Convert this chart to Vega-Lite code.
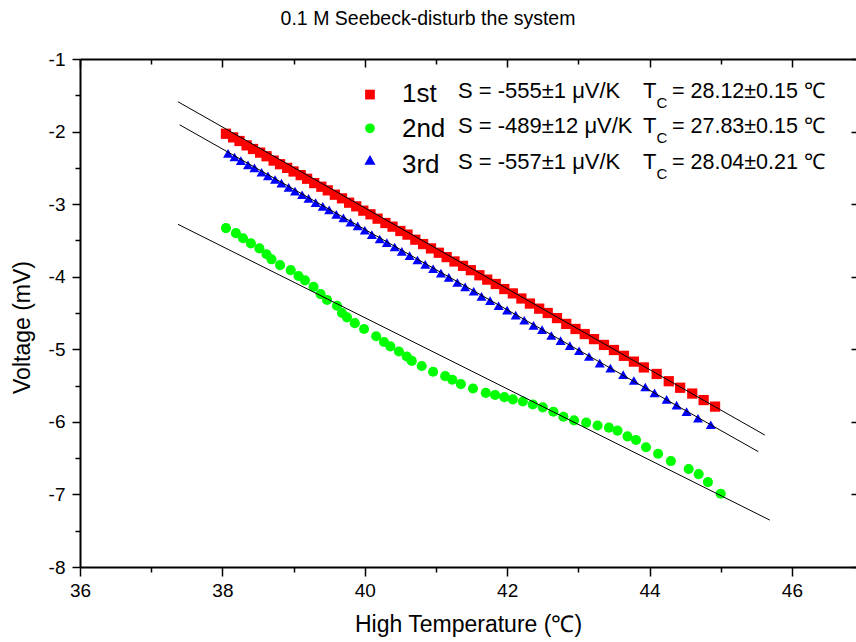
{
  "$schema": "https://vega.github.io/schema/vega-lite/v6.json",
  "width": 776,
  "height": 508,
  "autosize": {"type": "none"},
  "padding": {"left": 80, "top": 59, "right": 0, "bottom": 75},
  "background": "white",
  "config": {
    "view": {"stroke": null},
    "font": "Liberation Sans, Arial, sans-serif",
    "axis": {"labelFont": "Liberation Sans, Arial, sans-serif", "titleFont": "Liberation Sans, Arial, sans-serif", "labelColor": "black", "titleColor": "black", "domainColor": "black", "tickColor": "black", "titleFontWeight": "normal", "grid": false}
  },
  "title": {"text": "0.1 M Seebeck-disturb the system", "fontSize": 19.5, "fontWeight": "normal", "font": "Liberation Sans, Arial, sans-serif", "anchor": "middle", "dx": -40, "offset": 6, "baseline": "alphabetic", "color": "black"},
  "datasets": {
    "points": [
      {"series": "1st", "T": 38.05, "V": -2.03}, {"series": "1st", "T": 38.15, "V": -2.08}, {"series": "1st", "T": 38.24, "V": -2.13}, {"series": "1st", "T": 38.34, "V": -2.19},
      {"series": "1st", "T": 38.43, "V": -2.24}, {"series": "1st", "T": 38.53, "V": -2.29}, {"series": "1st", "T": 38.62, "V": -2.34}, {"series": "1st", "T": 38.72, "V": -2.40},
      {"series": "1st", "T": 38.81, "V": -2.45}, {"series": "1st", "T": 38.91, "V": -2.50}, {"series": "1st", "T": 39.00, "V": -2.55}, {"series": "1st", "T": 39.10, "V": -2.60},
      {"series": "1st", "T": 39.19, "V": -2.65}, {"series": "1st", "T": 39.29, "V": -2.71}, {"series": "1st", "T": 39.39, "V": -2.76}, {"series": "1st", "T": 39.48, "V": -2.81},
      {"series": "1st", "T": 39.58, "V": -2.87}, {"series": "1st", "T": 39.68, "V": -2.92}, {"series": "1st", "T": 39.78, "V": -2.98}, {"series": "1st", "T": 39.88, "V": -3.03},
      {"series": "1st", "T": 39.98, "V": -3.09}, {"series": "1st", "T": 40.08, "V": -3.14}, {"series": "1st", "T": 40.18, "V": -3.20}, {"series": "1st", "T": 40.29, "V": -3.26},
      {"series": "1st", "T": 40.39, "V": -3.31}, {"series": "1st", "T": 40.50, "V": -3.37}, {"series": "1st", "T": 40.60, "V": -3.42}, {"series": "1st", "T": 40.71, "V": -3.49},
      {"series": "1st", "T": 40.82, "V": -3.55}, {"series": "1st", "T": 40.93, "V": -3.61}, {"series": "1st", "T": 41.04, "V": -3.67}, {"series": "1st", "T": 41.15, "V": -3.73},
      {"series": "1st", "T": 41.26, "V": -3.79}, {"series": "1st", "T": 41.38, "V": -3.85}, {"series": "1st", "T": 41.49, "V": -3.91}, {"series": "1st", "T": 41.61, "V": -3.98},
      {"series": "1st", "T": 41.72, "V": -4.04}, {"series": "1st", "T": 41.84, "V": -4.10}, {"series": "1st", "T": 41.96, "V": -4.17}, {"series": "1st", "T": 42.08, "V": -4.23},
      {"series": "1st", "T": 42.20, "V": -4.30}, {"series": "1st", "T": 42.32, "V": -4.37}, {"series": "1st", "T": 42.45, "V": -4.44}, {"series": "1st", "T": 42.57, "V": -4.50},
      {"series": "1st", "T": 42.70, "V": -4.57}, {"series": "1st", "T": 42.83, "V": -4.65}, {"series": "1st", "T": 42.96, "V": -4.72}, {"series": "1st", "T": 43.09, "V": -4.79},
      {"series": "1st", "T": 43.22, "V": -4.86}, {"series": "1st", "T": 43.36, "V": -4.94}, {"series": "1st", "T": 43.50, "V": -5.01}, {"series": "1st", "T": 43.64, "V": -5.09},
      {"series": "1st", "T": 43.78, "V": -5.17}, {"series": "1st", "T": 43.92, "V": -5.25}, {"series": "1st", "T": 44.10, "V": -5.34}, {"series": "1st", "T": 44.27, "V": -5.44},
      {"series": "1st", "T": 44.43, "V": -5.53}, {"series": "1st", "T": 44.60, "V": -5.61}, {"series": "1st", "T": 44.76, "V": -5.70}, {"series": "1st", "T": 44.92, "V": -5.79},
      {"series": "2nd", "T": 38.05, "V": -3.33}, {"series": "2nd", "T": 38.19, "V": -3.40}, {"series": "2nd", "T": 38.29, "V": -3.47}, {"series": "2nd", "T": 38.40, "V": -3.54},
      {"series": "2nd", "T": 38.52, "V": -3.61}, {"series": "2nd", "T": 38.62, "V": -3.69}, {"series": "2nd", "T": 38.69, "V": -3.76}, {"series": "2nd", "T": 38.81, "V": -3.84},
      {"series": "2nd", "T": 38.96, "V": -3.91}, {"series": "2nd", "T": 39.07, "V": -3.99}, {"series": "2nd", "T": 39.16, "V": -4.05}, {"series": "2nd", "T": 39.28, "V": -4.14},
      {"series": "2nd", "T": 39.38, "V": -4.24}, {"series": "2nd", "T": 39.47, "V": -4.32}, {"series": "2nd", "T": 39.61, "V": -4.40}, {"series": "2nd", "T": 39.68, "V": -4.50},
      {"series": "2nd", "T": 39.75, "V": -4.56}, {"series": "2nd", "T": 39.86, "V": -4.64}, {"series": "2nd", "T": 39.99, "V": -4.72}, {"series": "2nd", "T": 40.16, "V": -4.82},
      {"series": "2nd", "T": 40.27, "V": -4.90}, {"series": "2nd", "T": 40.36, "V": -4.96}, {"series": "2nd", "T": 40.48, "V": -5.03}, {"series": "2nd", "T": 40.59, "V": -5.10},
      {"series": "2nd", "T": 40.66, "V": -5.16}, {"series": "2nd", "T": 40.80, "V": -5.23}, {"series": "2nd", "T": 40.96, "V": -5.31}, {"series": "2nd", "T": 41.13, "V": -5.37},
      {"series": "2nd", "T": 41.23, "V": -5.42}, {"series": "2nd", "T": 41.35, "V": -5.48}, {"series": "2nd", "T": 41.52, "V": -5.54}, {"series": "2nd", "T": 41.70, "V": -5.60},
      {"series": "2nd", "T": 41.83, "V": -5.63}, {"series": "2nd", "T": 41.96, "V": -5.66}, {"series": "2nd", "T": 42.08, "V": -5.69}, {"series": "2nd", "T": 42.22, "V": -5.72},
      {"series": "2nd", "T": 42.36, "V": -5.76}, {"series": "2nd", "T": 42.50, "V": -5.80}, {"series": "2nd", "T": 42.65, "V": -5.86}, {"series": "2nd", "T": 42.79, "V": -5.93},
      {"series": "2nd", "T": 42.94, "V": -5.98}, {"series": "2nd", "T": 43.11, "V": -6.01}, {"series": "2nd", "T": 43.27, "V": -6.05}, {"series": "2nd", "T": 43.43, "V": -6.08},
      {"series": "2nd", "T": 43.55, "V": -6.12}, {"series": "2nd", "T": 43.69, "V": -6.20}, {"series": "2nd", "T": 43.81, "V": -6.25}, {"series": "2nd", "T": 43.95, "V": -6.35},
      {"series": "2nd", "T": 44.12, "V": -6.44}, {"series": "2nd", "T": 44.30, "V": -6.54}, {"series": "2nd", "T": 44.55, "V": -6.65}, {"series": "2nd", "T": 44.69, "V": -6.72},
      {"series": "2nd", "T": 44.82, "V": -6.83}, {"series": "2nd", "T": 45.00, "V": -6.99},
      {"series": "3rd", "T": 38.08, "V": -2.30}, {"series": "3rd", "T": 38.17, "V": -2.35}, {"series": "3rd", "T": 38.26, "V": -2.40}, {"series": "3rd", "T": 38.36, "V": -2.46},
      {"series": "3rd", "T": 38.45, "V": -2.50}, {"series": "3rd", "T": 38.55, "V": -2.56}, {"series": "3rd", "T": 38.64, "V": -2.61}, {"series": "3rd", "T": 38.74, "V": -2.66},
      {"series": "3rd", "T": 38.83, "V": -2.71}, {"series": "3rd", "T": 38.93, "V": -2.77}, {"series": "3rd", "T": 39.02, "V": -2.82}, {"series": "3rd", "T": 39.12, "V": -2.87},
      {"series": "3rd", "T": 39.21, "V": -2.92}, {"series": "3rd", "T": 39.31, "V": -2.98}, {"series": "3rd", "T": 39.41, "V": -3.03}, {"series": "3rd", "T": 39.50, "V": -3.08},
      {"series": "3rd", "T": 39.60, "V": -3.14}, {"series": "3rd", "T": 39.70, "V": -3.19}, {"series": "3rd", "T": 39.80, "V": -3.25}, {"series": "3rd", "T": 39.90, "V": -3.30},
      {"series": "3rd", "T": 40.00, "V": -3.36}, {"series": "3rd", "T": 40.10, "V": -3.42}, {"series": "3rd", "T": 40.21, "V": -3.48}, {"series": "3rd", "T": 40.31, "V": -3.53},
      {"series": "3rd", "T": 40.42, "V": -3.59}, {"series": "3rd", "T": 40.52, "V": -3.65}, {"series": "3rd", "T": 40.63, "V": -3.71}, {"series": "3rd", "T": 40.74, "V": -3.77},
      {"series": "3rd", "T": 40.85, "V": -3.83}, {"series": "3rd", "T": 40.96, "V": -3.89}, {"series": "3rd", "T": 41.07, "V": -3.95}, {"series": "3rd", "T": 41.18, "V": -4.01},
      {"series": "3rd", "T": 41.30, "V": -4.08}, {"series": "3rd", "T": 41.41, "V": -4.14}, {"series": "3rd", "T": 41.53, "V": -4.20}, {"series": "3rd", "T": 41.64, "V": -4.27},
      {"series": "3rd", "T": 41.76, "V": -4.33}, {"series": "3rd", "T": 41.88, "V": -4.40}, {"series": "3rd", "T": 42.00, "V": -4.46}, {"series": "3rd", "T": 42.12, "V": -4.53},
      {"series": "3rd", "T": 42.24, "V": -4.60}, {"series": "3rd", "T": 42.37, "V": -4.67}, {"series": "3rd", "T": 42.49, "V": -4.73}, {"series": "3rd", "T": 42.62, "V": -4.81},
      {"series": "3rd", "T": 42.75, "V": -4.88}, {"series": "3rd", "T": 42.88, "V": -4.95}, {"series": "3rd", "T": 43.01, "V": -5.02}, {"series": "3rd", "T": 43.15, "V": -5.10},
      {"series": "3rd", "T": 43.30, "V": -5.19}, {"series": "3rd", "T": 43.45, "V": -5.26}, {"series": "3rd", "T": 43.63, "V": -5.35}, {"series": "3rd", "T": 43.78, "V": -5.43},
      {"series": "3rd", "T": 43.94, "V": -5.52}, {"series": "3rd", "T": 44.07, "V": -5.60}, {"series": "3rd", "T": 44.24, "V": -5.69}, {"series": "3rd", "T": 44.38, "V": -5.77},
      {"series": "3rd", "T": 44.52, "V": -5.86}, {"series": "3rd", "T": 44.68, "V": -5.95}, {"series": "3rd", "T": 44.86, "V": -6.04}
    ],
    "fits": [
      {"fit": "1st", "T": 37.376, "V": -1.589}, {"fit": "1st", "T": 45.62, "V": -6.182},
      {"fit": "2nd", "T": 37.376, "V": -3.278}, {"fit": "2nd", "T": 45.69, "V": -7.354},
      {"fit": "3rd", "T": 37.40, "V": -1.907}, {"fit": "3rd", "T": 45.527, "V": -6.41}
    ]
  },
  "resolve": {"axis": {"x": "independent", "y": "independent"}},
  "layer": [
    {
      "data": {"name": "points"},
      "mark": {"type": "point", "filled": true, "opacity": 1, "strokeWidth": 0},
      "encoding": {
        "x": {"field": "T", "type": "quantitative", "scale": {"domain": [36, 46.9], "nice": false, "zero": false},
          "axis": {"orient": "bottom", "values": [36, 37, 38, 39, 40, 41, 42, 43, 44, 45, 46], "labelExpr": "datum.value % 2 === 0 ? '' + datum.value : ''",
            "tickSize": {"condition": {"test": "datum.value % 2 === 0", "value": 9}, "value": 5}, "tickWidth": 1.5, "domainWidth": 2,
            "labelFontSize": 19, "labelPadding": 5, "labelOverlap": false, "labelFlush": false, "title": "High Temperature (℃)", "titleFontSize": 23, "titlePadding": 13}},
        "y": {"field": "V", "type": "quantitative", "scale": {"domain": [-8, -1], "nice": false, "zero": false},
          "axis": {"orient": "left", "values": [-8, -7.5, -7, -6.5, -6, -5.5, -5, -4.5, -4, -3.5, -3, -2.5, -2, -1.5, -1], "labelExpr": "datum.value % 1 === 0 ? '' + datum.value : ''",
            "tickSize": {"condition": {"test": "datum.value % 1 === 0", "value": 8}, "value": 5}, "tickWidth": 1.5, "domainWidth": 2,
            "labelFontSize": 19, "labelPadding": 7, "labelOverlap": false, "title": "Voltage (mV)", "titleFontSize": 23, "titlePadding": 14, "titleY": 268}},
        "shape": {"field": "series", "type": "nominal", "scale": {"domain": ["1st", "2nd", "3rd"], "range": ["square", "circle", "triangle-up"]}, "legend": null},
        "color": {"field": "series", "type": "nominal", "scale": {"domain": ["1st", "2nd", "3rd"], "range": ["#ff0000", "#00ff00", "#0000ff"]}, "legend": null},
        "size": {"field": "series", "type": "nominal", "scale": {"domain": ["1st", "2nd", "3rd"], "range": [105, 100, 125]}, "legend": null}
      }
    },
    {
      "data": {"name": "fits"},
      "mark": {"type": "line", "color": "black", "strokeWidth": 1},
      "encoding": {
        "x": {"field": "T", "type": "quantitative", "scale": {"domain": [36, 46.9], "nice": false, "zero": false},
          "axis": {"orient": "top", "values": [36, 37, 38, 39, 40, 41, 42, 43, 44, 45, 46], "labels": false, "title": null,
            "tickSize": {"condition": {"test": "datum.value % 2 === 0", "value": -8}, "value": -5}, "tickWidth": 1.5, "domainWidth": 2}},
        "y": {"field": "V", "type": "quantitative", "scale": {"domain": [-8, -1], "nice": false, "zero": false},
          "axis": {"orient": "right", "values": [-8, -7, -6, -5, -4, -3, -2, -1], "labels": false, "title": null, "domain": false, "tickSize": -5, "tickWidth": 1.5}},
        "detail": {"field": "fit", "type": "nominal"}
      }
    },
    {
      "data": {"values": [{"label": "1st", "s": "S = -555±1 μV/K", "t": "T", "c": "C", "tc": "= 28.12±0.15 ℃"}]},
      "layer": [
        {"mark": {"type": "point", "shape": "square", "filled": true, "color": "#ff0000", "size": 95, "opacity": 1, "strokeWidth": 0},
          "encoding": {"x": {"datum": 40.073, "type": "quantitative", "scale": {"domain": [36, 46.9], "nice": false, "zero": false}, "axis": null}, "y": {"datum": -1.49, "type": "quantitative", "scale": {"domain": [-8, -1], "nice": false, "zero": false}, "axis": null}}},
        {"mark": {"type": "text", "fontSize": 26, "align": "left", "baseline": "alphabetic", "color": "black"},
          "encoding": {"text": {"field": "label"}, "x": {"datum": 40.522, "type": "quantitative", "scale": {"domain": [36, 46.9], "nice": false, "zero": false}, "axis": null}, "y": {"datum": -1.59, "type": "quantitative", "scale": {"domain": [-8, -1], "nice": false, "zero": false}, "axis": null}}},
        {"mark": {"type": "text", "fontSize": 22, "align": "left", "baseline": "alphabetic", "color": "black"},
          "encoding": {"text": {"field": "s"}, "x": {"datum": 41.309, "type": "quantitative", "scale": {"domain": [36, 46.9], "nice": false, "zero": false}, "axis": null}, "y": {"datum": -1.534, "type": "quantitative", "scale": {"domain": [-8, -1], "nice": false, "zero": false}, "axis": null}}},
        {"mark": {"type": "text", "fontSize": 22, "align": "left", "baseline": "alphabetic", "color": "black"},
          "encoding": {"text": {"field": "t"}, "x": {"datum": 43.907, "type": "quantitative", "scale": {"domain": [36, 46.9], "nice": false, "zero": false}, "axis": null}, "y": {"datum": -1.534, "type": "quantitative", "scale": {"domain": [-8, -1], "nice": false, "zero": false}, "axis": null}}},
        {"mark": {"type": "text", "fontSize": 15, "align": "left", "baseline": "alphabetic", "color": "black"},
          "encoding": {"text": {"field": "c"}, "x": {"datum": 44.097, "type": "quantitative", "scale": {"domain": [36, 46.9], "nice": false, "zero": false}, "axis": null}, "y": {"datum": -1.672, "type": "quantitative", "scale": {"domain": [-8, -1], "nice": false, "zero": false}, "axis": null}}},
        {"mark": {"type": "text", "fontSize": 21.5, "align": "left", "baseline": "alphabetic", "color": "black"},
          "encoding": {"text": {"field": "tc"}, "x": {"datum": 44.315, "type": "quantitative", "scale": {"domain": [36, 46.9], "nice": false, "zero": false}, "axis": null}, "y": {"datum": -1.534, "type": "quantitative", "scale": {"domain": [-8, -1], "nice": false, "zero": false}, "axis": null}}}
      ]
    },
    {
      "data": {"values": [{"label": "2nd", "s": "S = -489±12 μV/K", "t": "T", "c": "C", "tc": "= 27.83±0.15 ℃"}]},
      "layer": [
        {"mark": {"type": "point", "shape": "circle", "filled": true, "color": "#00ff00", "size": 95, "opacity": 1, "strokeWidth": 0},
          "encoding": {"x": {"datum": 40.073, "type": "quantitative", "scale": {"domain": [36, 46.9], "nice": false, "zero": false}, "axis": null}, "y": {"datum": -1.955, "type": "quantitative", "scale": {"domain": [-8, -1], "nice": false, "zero": false}, "axis": null}}},
        {"mark": {"type": "text", "fontSize": 26, "align": "left", "baseline": "alphabetic", "color": "black"},
          "encoding": {"text": {"field": "label"}, "x": {"datum": 40.522, "type": "quantitative", "scale": {"domain": [36, 46.9], "nice": false, "zero": false}, "axis": null}, "y": {"datum": -2.079, "type": "quantitative", "scale": {"domain": [-8, -1], "nice": false, "zero": false}, "axis": null}}},
        {"mark": {"type": "text", "fontSize": 22, "align": "left", "baseline": "alphabetic", "color": "black"},
          "encoding": {"text": {"field": "s"}, "x": {"datum": 41.309, "type": "quantitative", "scale": {"domain": [36, 46.9], "nice": false, "zero": false}, "axis": null}, "y": {"datum": -2.023, "type": "quantitative", "scale": {"domain": [-8, -1], "nice": false, "zero": false}, "axis": null}}},
        {"mark": {"type": "text", "fontSize": 22, "align": "left", "baseline": "alphabetic", "color": "black"},
          "encoding": {"text": {"field": "t"}, "x": {"datum": 43.907, "type": "quantitative", "scale": {"domain": [36, 46.9], "nice": false, "zero": false}, "axis": null}, "y": {"datum": -2.023, "type": "quantitative", "scale": {"domain": [-8, -1], "nice": false, "zero": false}, "axis": null}}},
        {"mark": {"type": "text", "fontSize": 15, "align": "left", "baseline": "alphabetic", "color": "black"},
          "encoding": {"text": {"field": "c"}, "x": {"datum": 44.097, "type": "quantitative", "scale": {"domain": [36, 46.9], "nice": false, "zero": false}, "axis": null}, "y": {"datum": -2.162, "type": "quantitative", "scale": {"domain": [-8, -1], "nice": false, "zero": false}, "axis": null}}},
        {"mark": {"type": "text", "fontSize": 21.5, "align": "left", "baseline": "alphabetic", "color": "black"},
          "encoding": {"text": {"field": "tc"}, "x": {"datum": 44.315, "type": "quantitative", "scale": {"domain": [36, 46.9], "nice": false, "zero": false}, "axis": null}, "y": {"datum": -2.023, "type": "quantitative", "scale": {"domain": [-8, -1], "nice": false, "zero": false}, "axis": null}}}
      ]
    },
    {
      "data": {"values": [{"label": "3rd", "s": "S = -557±1 μV/K", "t": "T", "c": "C", "tc": "= 28.04±0.21 ℃"}]},
      "layer": [
        {"mark": {"type": "point", "shape": "triangle-up", "filled": true, "color": "#0000ff", "size": 125, "opacity": 1, "strokeWidth": 0},
          "encoding": {"x": {"datum": 40.073, "type": "quantitative", "scale": {"domain": [36, 46.9], "nice": false, "zero": false}, "axis": null}, "y": {"datum": -2.389, "type": "quantitative", "scale": {"domain": [-8, -1], "nice": false, "zero": false}, "axis": null}}},
        {"mark": {"type": "text", "fontSize": 26, "align": "left", "baseline": "alphabetic", "color": "black"},
          "encoding": {"text": {"field": "label"}, "x": {"datum": 40.522, "type": "quantitative", "scale": {"domain": [36, 46.9], "nice": false, "zero": false}, "axis": null}, "y": {"datum": -2.568, "type": "quantitative", "scale": {"domain": [-8, -1], "nice": false, "zero": false}, "axis": null}}},
        {"mark": {"type": "text", "fontSize": 22, "align": "left", "baseline": "alphabetic", "color": "black"},
          "encoding": {"text": {"field": "s"}, "x": {"datum": 41.309, "type": "quantitative", "scale": {"domain": [36, 46.9], "nice": false, "zero": false}, "axis": null}, "y": {"datum": -2.513, "type": "quantitative", "scale": {"domain": [-8, -1], "nice": false, "zero": false}, "axis": null}}},
        {"mark": {"type": "text", "fontSize": 22, "align": "left", "baseline": "alphabetic", "color": "black"},
          "encoding": {"text": {"field": "t"}, "x": {"datum": 43.907, "type": "quantitative", "scale": {"domain": [36, 46.9], "nice": false, "zero": false}, "axis": null}, "y": {"datum": -2.513, "type": "quantitative", "scale": {"domain": [-8, -1], "nice": false, "zero": false}, "axis": null}}},
        {"mark": {"type": "text", "fontSize": 15, "align": "left", "baseline": "alphabetic", "color": "black"},
          "encoding": {"text": {"field": "c"}, "x": {"datum": 44.097, "type": "quantitative", "scale": {"domain": [36, 46.9], "nice": false, "zero": false}, "axis": null}, "y": {"datum": -2.652, "type": "quantitative", "scale": {"domain": [-8, -1], "nice": false, "zero": false}, "axis": null}}},
        {"mark": {"type": "text", "fontSize": 21.5, "align": "left", "baseline": "alphabetic", "color": "black"},
          "encoding": {"text": {"field": "tc"}, "x": {"datum": 44.315, "type": "quantitative", "scale": {"domain": [36, 46.9], "nice": false, "zero": false}, "axis": null}, "y": {"datum": -2.513, "type": "quantitative", "scale": {"domain": [-8, -1], "nice": false, "zero": false}, "axis": null}}}
      ]
    }
  ]
}
